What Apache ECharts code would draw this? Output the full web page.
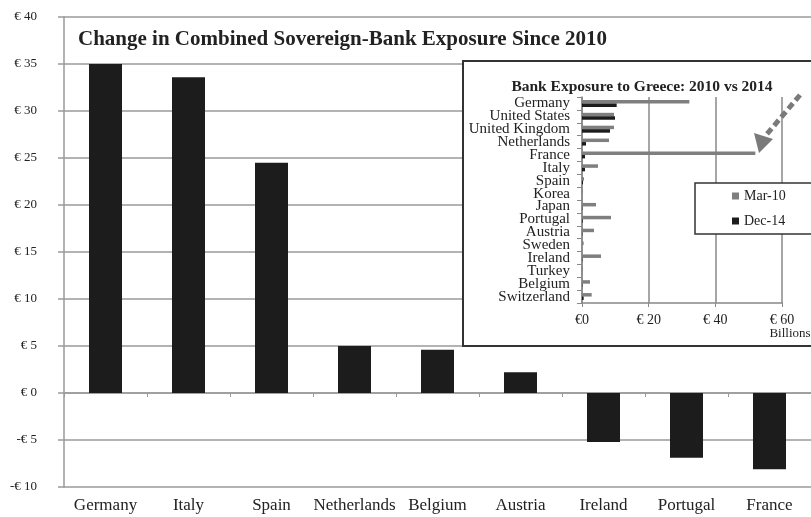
<!DOCTYPE html>
<html><head><meta charset="utf-8">
<script src="https://cdn.jsdelivr.net/npm/echarts@6/dist/echarts.min.js"></script>
<style>html,body{margin:0;padding:0;background:#fff}#c{width:811px;height:517px}</style>
</head><body><div id="c"></div>
<script>
// Main chart data
const countries = ['Germany','Italy','Spain','Netherlands','Belgium','Austria','Ireland','Portugal','France'];
const exposureChange = [35.0, 33.6, 24.5, 5.0, 4.6, 2.2, -5.2, -6.9, -8.1];
const mainMin = -10, mainMax = 40, mainStep = 5;
const mainTitle = 'Change in Combined Sovereign-Bank Exposure Since 2010';

// Inset data (billions)
const insetTitle = 'Bank Exposure to Greece: 2010 vs 2014';
const insetCountries = ['Germany','United States','United Kingdom','Netherlands','France','Italy','Spain','Korea','Japan','Portugal','Austria','Sweden','Ireland','Turkey','Belgium','Switzerland'];
const mar10 = [32.2, 9.6, 9.6, 8.1, 52.0, 4.8, 0.6, 0.2, 4.2, 8.7, 3.6, 0.5, 5.7, 0.2, 2.4, 2.9];
const dec14 = [10.4, 9.9, 8.4, 1.2, 0.9, 0.9, 0.3, 0.0, 0.1, 0.2, 0.1, 0.0, 0.1, 0.0, 0.1, 0.5];
const seriesNames = ['Mar-10', 'Dec-14'];
const insetMin = 0, insetMax = 60, insetStep = 20;
const insetUnit = 'Billions';

const FONT = '"Liberation Serif", "Times New Roman", serif';
const TXT = '#222';
const GRID = '#9a9a9a';

const chart = echarts.init(document.getElementById('c'), null, {renderer: 'canvas'});
chart.setOption({
  animation: false,
  backgroundColor: '#fff',
  textStyle: {fontFamily: FONT},
  grid: [
    {left: 64, top: 17, width: 754, height: 470},
    {left: 582, top: 97, width: 200, height: 206}
  ],
  xAxis: [
    {type: 'category', gridIndex: 0, data: countries, position: 'bottom',
     axisLine: {show: false, onZero: false}, axisTick: {show: false},
     axisLabel: {color: TXT, fontFamily: FONT, fontSize: 17, margin: 10, interval: 0}},
    {type: 'category', gridIndex: 0, data: countries, position: 'bottom',
     axisLine: {show: true, onZero: true, onZeroAxisIndex: 0, lineStyle: {color: GRID, width: 1.5}},
     axisTick: {show: true, length: 4, lineStyle: {color: GRID}}, axisLabel: {show: false}},
    {type: 'value', gridIndex: 1, min: insetMin, max: insetMax, interval: insetStep, z: 8,
     axisLine: {show: true, lineStyle: {color: '#888', width: 1.5}},
     axisTick: {show: true, length: 4, lineStyle: {color: '#888'}},
     splitLine: {show: true, lineStyle: {color: '#888', width: 1.5}},
     axisLabel: {color: TXT, fontFamily: FONT, fontSize: 14, margin: 10,
       formatter: v => v === 0 ? '€0' : '€ ' + v}}
  ],
  yAxis: [
    {type: 'value', gridIndex: 0, min: mainMin, max: mainMax, interval: mainStep,
     axisLine: {show: true, lineStyle: {color: GRID, width: 1.5}},
     axisTick: {show: true, length: 6, lineStyle: {color: GRID, width: 1.5}},
     splitLine: {show: true, lineStyle: {color: GRID, width: 1.5}},
     axisLabel: {color: TXT, fontFamily: FONT, fontSize: 13, margin: 27,
       formatter: v => (v < 0 ? '-€ ' + Math.abs(v) : '€ ' + v)}},
    {type: 'category', gridIndex: 1, data: insetCountries, inverse: true, z: 8,
     axisLine: {show: true, lineStyle: {color: '#888', width: 1.5}},
     axisTick: {show: true, length: 5, lineStyle: {color: '#888'}},
     axisLabel: {color: TXT, fontFamily: FONT, fontSize: 15, margin: 12, interval: 0, lineHeight: 13}}
  ],
  legend: {
    data: seriesNames, orient: 'vertical', left: 695, top: 183, z: 20,
    backgroundColor: '#fff', borderColor: '#333', borderWidth: 1.5, borderRadius: 0,
    padding: [6, 30, 6, 37], itemGap: 11, itemWidth: 7, itemHeight: 7, icon: 'rect',
    textStyle: {color: TXT, fontFamily: FONT, fontSize: 14}
  },
  graphic: [
    {type: 'rect', z: 5, shape: {x: 463, y: 61, width: 360, height: 285},
     style: {fill: '#fff', stroke: '#333', lineWidth: 2}},
    {type: 'text', z: 6, x: 78, y: 40, style: {text: mainTitle, font: 'bold 21px ' + FONT, fill: TXT, textVerticalAlign: 'middle'}},
    {type: 'text', z: 6, x: 642, y: 87, style: {text: insetTitle, font: 'bold 15.5px ' + FONT, fill: TXT, textAlign: 'center', textVerticalAlign: 'middle'}},
    {type: 'text', z: 6, x: 790, y: 334, style: {text: insetUnit, font: '13px ' + FONT, fill: TXT, textAlign: 'center', textVerticalAlign: 'middle'}},
    {type: 'line', z: 20, shape: {x1: 800, y1: 95, x2: 767, y2: 134},
     style: {stroke: '#7a7a7a', lineWidth: 5, lineDash: [7, 4]}},
    {type: 'polygon', z: 20, shape: {points: [[754, 133], [773, 139], [759, 153]]},
     style: {fill: '#7a7a7a'}}
  ],
  series: [
    {type: 'bar', name: 'Change', xAxisIndex: 0, yAxisIndex: 0, data: exposureChange,
     barWidth: 33, itemStyle: {color: '#1c1c1c'}},
    {type: 'bar', name: seriesNames[0], xAxisIndex: 2, yAxisIndex: 1, data: mar10, z: 9,
     barWidth: 3.5, barGap: '0%', itemStyle: {color: '#7f7f7f'}},
    {type: 'bar', name: seriesNames[1], xAxisIndex: 2, yAxisIndex: 1, data: dec14, z: 9,
     barWidth: 3.5, barGap: '0%', itemStyle: {color: '#1c1c1c'}}
  ]
});
</script>
</body></html>
